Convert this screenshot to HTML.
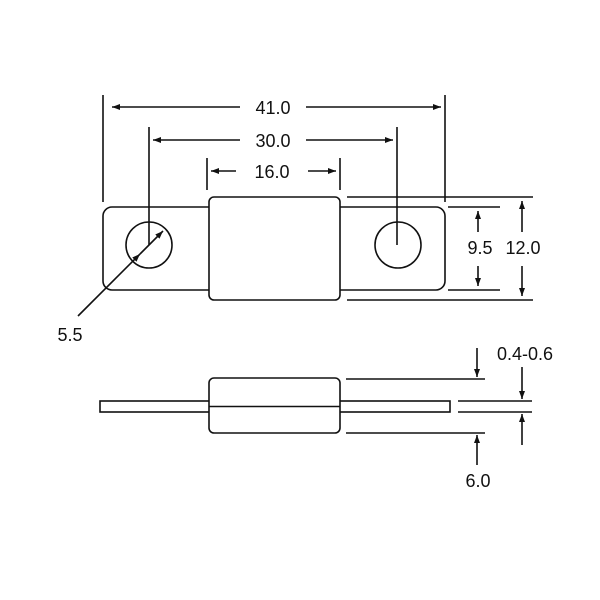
<!DOCTYPE html>
<html><head><style>body{margin:0;background:#fff}svg{display:block}text{font-family:"Liberation Sans",Arial,sans-serif;font-size:18px;fill:#111}</style></head><body>
<svg width="600" height="600" viewBox="0 0 600 600">
<defs><marker id="a" markerWidth="8" markerHeight="6" refX="8" refY="3" orient="auto" markerUnits="userSpaceOnUse"><path d="M0,0L8,3L0,6z" fill="#111"/></marker></defs>
<g stroke="#111" stroke-width="1.6" fill="none">
<line x1="103" y1="95" x2="103" y2="202"/>
<line x1="445" y1="95" x2="445" y2="202"/>
<line x1="149" y1="127" x2="149" y2="245"/>
<line x1="397" y1="127" x2="397" y2="245"/>
<line x1="207" y1="158" x2="207" y2="190"/>
<line x1="340" y1="158" x2="340" y2="190"/>
<line x1="240" y1="107" x2="112" y2="107" marker-end="url(#a)"/>
<line x1="306" y1="107" x2="441" y2="107" marker-end="url(#a)"/>
<line x1="240" y1="140" x2="153" y2="140" marker-end="url(#a)"/>
<line x1="306" y1="140" x2="393" y2="140" marker-end="url(#a)"/>
<line x1="236" y1="171" x2="211" y2="171" marker-end="url(#a)"/>
<line x1="308" y1="171" x2="336" y2="171" marker-end="url(#a)"/>
<rect x="103" y="207" width="342" height="83" rx="9"/>
<rect x="209" y="197" width="131" height="103" rx="5" fill="#fff"/>
<circle cx="149" cy="245" r="23"/>
<circle cx="398" cy="245" r="23"/>
<line x1="78" y1="316" x2="140" y2="254" marker-end="url(#a)"/>
<line x1="140" y1="254" x2="163" y2="231" marker-end="url(#a)"/>
<line x1="347" y1="197" x2="533" y2="197"/>
<line x1="347" y1="300" x2="533" y2="300"/>
<line x1="448" y1="207" x2="500" y2="207"/>
<line x1="448" y1="290" x2="500" y2="290"/>
<line x1="478" y1="232" x2="478" y2="211" marker-end="url(#a)"/>
<line x1="478" y1="266" x2="478" y2="286" marker-end="url(#a)"/>
<line x1="522" y1="232" x2="522" y2="201" marker-end="url(#a)"/>
<line x1="522" y1="266" x2="522" y2="296" marker-end="url(#a)"/>
<rect x="100" y="401" width="350" height="11"/>
<rect x="209" y="378" width="131" height="55" rx="5" fill="#fff"/>
<line x1="209" y1="406.5" x2="340" y2="406.5"/>
<line x1="346" y1="379" x2="485" y2="379"/>
<line x1="346" y1="433" x2="485" y2="433"/>
<line x1="477" y1="348" x2="477" y2="377" marker-end="url(#a)"/>
<line x1="477" y1="465" x2="477" y2="435" marker-end="url(#a)"/>
<line x1="458" y1="401" x2="532" y2="401"/>
<line x1="458" y1="412" x2="532" y2="412"/>
<line x1="522" y1="367" x2="522" y2="399" marker-end="url(#a)"/>
<line x1="522" y1="445" x2="522" y2="414" marker-end="url(#a)"/>
</g>
<text x="273" y="114" text-anchor="middle">41.0</text>
<text x="273" y="147" text-anchor="middle">30.0</text>
<text x="272" y="178" text-anchor="middle">16.0</text>
<text x="480" y="254" text-anchor="middle">9.5</text>
<text x="523" y="254" text-anchor="middle">12.0</text>
<text x="70" y="341" text-anchor="middle">5.5</text>
<text x="525" y="360" text-anchor="middle">0.4-0.6</text>
<text x="478" y="487" text-anchor="middle">6.0</text>
</svg>
</body></html>
